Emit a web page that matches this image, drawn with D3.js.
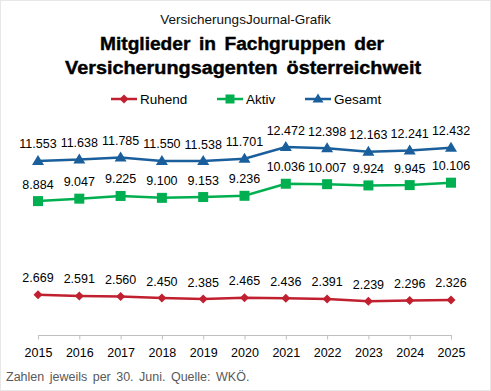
<!DOCTYPE html>
<html><head><meta charset="utf-8">
<script src="https://cdn.jsdelivr.net/npm/d3@7/dist/d3.min.js"></script>
<style>body{margin:0;background:#fff}svg{display:block;font-family:"Liberation Sans",Arial,sans-serif}</style>
</head><body><svg id="c" width="491" height="391"></svg>
<script>
const years = ["2015","2016","2017","2018","2019","2020","2021","2022","2023","2024","2025"];
const ruhend = [2669,2591,2560,2450,2385,2465,2436,2391,2239,2296,2326];
const aktiv = [8884,9047,9225,9100,9153,9236,10036,10007,9924,9945,10106];
const gesamt = [11553,11638,11785,11550,11538,11701,12472,12398,12163,12241,12432];
const seriesNames = ["Ruhend","Aktiv","Gesamt"];
const colors = ["#C0202F","#00B050","#1A5F9B"];
const fmt = v => d3.format(",.0f")(v).replace(/,/g, ".");

const svg = d3.select("#c");
svg.append("rect").attr("x",0.5).attr("y",0.5).attr("width",490).attr("height",390)
  .attr("fill","#fff").attr("stroke","#cfcfcf").attr("stroke-dasharray","1,1");

svg.append("text").attr("x",245.5).attr("y",23.5).attr("text-anchor","middle")
  .attr("font-size",13.5).attr("fill","#111").text("VersicherungsJournal-Grafik");
svg.append("text").attr("x",242).attr("y",50).attr("text-anchor","middle")
  .attr("font-size",18).attr("font-weight","bold").attr("fill","#000")
  .attr("stroke","#000").attr("stroke-width",0.4)
  .attr("textLength",284).attr("lengthAdjust","spacingAndGlyphs")
  .style("word-spacing","3px").text("Mitglieder in Fachgruppen  der");
svg.append("text").attr("x",243).attr("y",74).attr("text-anchor","middle")
  .attr("font-size",18).attr("font-weight","bold").attr("fill","#000")
  .attr("stroke","#000").attr("stroke-width",0.4)
  .attr("textLength",356).attr("lengthAdjust","spacingAndGlyphs")
  .style("word-spacing","3px").text("Versicherungsagenten  österreichweit");

const x = d3.scalePoint().domain(years).range([38,451]);
const y = d3.scaleLinear().domain([0,14000]).range([335,124]);

// axis
const ax = svg.append("g").attr("transform","translate(0,335.5)")
  .call(d3.axisBottom(x).tickSize(4).tickSizeOuter(0));
ax.select(".domain").attr("stroke","#bfbfbf").attr("d","M38,0H452");
ax.selectAll(".tick line").attr("stroke","#bfbfbf");
ax.selectAll(".tick text").attr("font-size",12.5).attr("fill","#000")
  .attr("font-family","Liberation Sans, Arial, sans-serif").attr("dy",0).attr("y",21);

const data = [ruhend, aktiv, gesamt];
const line = d3.line().x((d,i)=>x(years[i])).y(d=>y(d));

function marker(g, k, cx, cy, s){
  if(k===0) g.append("path").attr("d",`M${cx},${cy-s}L${cx+s},${cy}L${cx},${cy+s}L${cx-s},${cy}Z`).attr("fill",colors[k]);
  else if(k===1) g.append("rect").attr("x",cx-s).attr("y",cy-s).attr("width",2*s).attr("height",2*s).attr("fill",colors[k]);
  else g.append("path").attr("d",`M${cx},${cy-s-1}L${cx+s+1},${cy+s-1}L${cx-s-1},${cy+s-1}Z`).attr("fill",colors[k]);
}

data.forEach((vals,k)=>{
  const g = svg.append("g");
  g.append("path").datum(vals).attr("d",line).attr("fill","none")
    .attr("stroke",colors[k]).attr("stroke-width",2.5);
  vals.forEach((v,i)=>{
    marker(g,k,x(years[i]),y(v),k===0?4.5:5);
    g.append("text").attr("x",x(years[i])).attr("y",y(v)-12.5).attr("text-anchor","middle")
      .attr("font-size",12.5).attr("fill","#000").text(fmt(v));
  });
});

// legend
const legX = [111,217,305];
seriesNames.forEach((n,k)=>{
  const g = svg.append("g");
  g.append("line").attr("x1",legX[k]).attr("x2",legX[k]+26).attr("y1",99).attr("y2",99)
    .attr("stroke",colors[k]).attr("stroke-width",2.5);
  marker(g,k,legX[k]+13,99,k===0?4.5:4.5);
  g.append("text").attr("x",legX[k]+29).attr("y",104).attr("font-size",13.5).attr("fill","#000").text(n);
});

svg.append("text").attr("x",6).attr("y",381).attr("font-size",12.5).attr("fill","#595959")
  .style("word-spacing","2px").text("Zahlen jeweils per 30. Juni. Quelle: WKÖ.");
</script></body></html>
